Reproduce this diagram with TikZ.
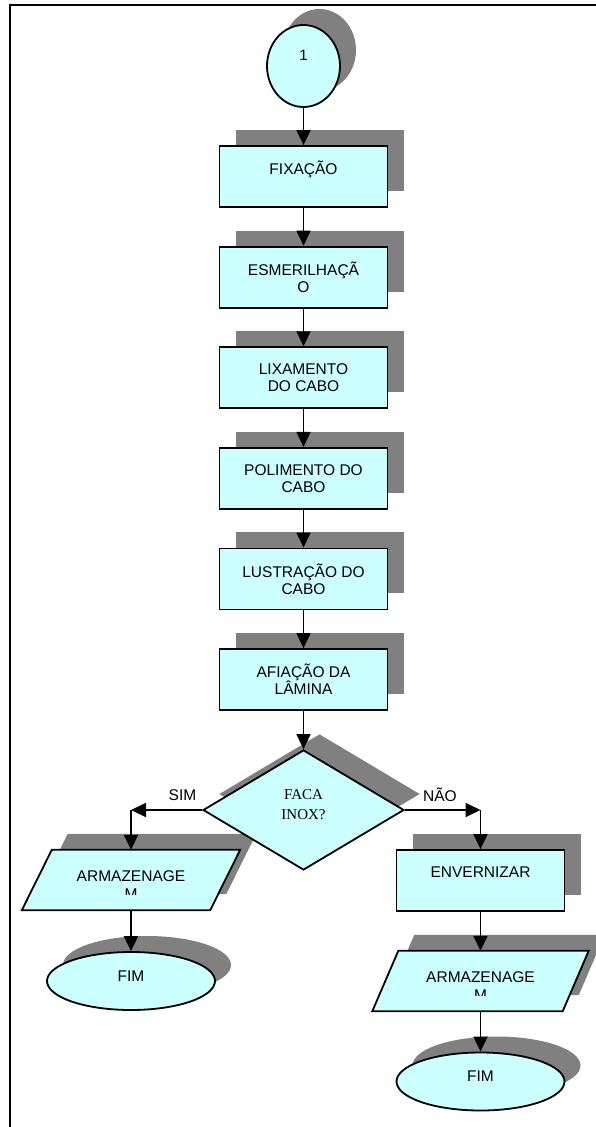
\documentclass[tikz,border=0pt]{standalone}
\usepackage{fontspec}
\setmainfont{Liberation Sans}
\newfontfamily\decisionfont{Liberation Serif}
\usetikzlibrary{shapes.geometric,arrows.meta,shadows}
\definecolor{stepfill}{HTML}{CCFFFF}
\definecolor{stepshade}{HTML}{808080}
\newcommand\flowfont{\fontsize{15.5pt}{17pt}\selectfont}

\begin{document}
\begin{tikzpicture}[x=1pt,y=-1pt,
  flowbase/.style={draw=black,line width=1.8pt,fill=stepfill,inner sep=0pt,
    general shadow={fill=stepshade,shadow xshift=16pt,shadow yshift=16pt}},
  procbox/.style={flowbase,rectangle,minimum width=168pt,minimum height=61pt,
    align=center,font=\flowfont},
  termbox/.style={flowbase,ellipse,minimum width=168pt,minimum height=58pt,
    text depth=10pt,font=\flowfont},
  iohold/.style={rectangle,draw=none,inner sep=0pt,minimum width=188pt,minimum height=60pt},
  decbox/.style={flowbase,diamond,minimum width=201pt,minimum height=120pt},
  plain/.style={inner sep=0pt,font=\flowfont},
  flow/.style={line width=1.8pt,-{Triangle[length=15pt,width=14pt]}},
]
\useasboundingbox (0,0) rectangle (596,1127);

% page frame
\draw[line width=2pt] (596,5) -- (10,5) -- (10,1127);

% main column
\node[flowbase,ellipse,minimum width=73pt,minimum height=82pt,text depth=22pt,
  font=\fontsize{15pt}{17pt}\selectfont] (start) at (303.5,66) {1};
\node[procbox] (fix) at (303.5,176.5) {FIXAÇÃO\\\mbox{}};
\node[procbox] (esm) at (303.5,277.1) {ESMERILHAÇÃ\\O};
\node[procbox] (lix) at (303.5,377.7) {LIXAMENTO\\DO CABO};
\node[procbox] (pol) at (303.5,478.3) {POLIMENTO DO\\CABO};
\node[procbox] (lus) at (303.5,578.9) {LUSTRAÇÃO DO\\CABO};
\node[procbox] (afi) at (303.5,679.5) {AFIAÇÃO DA\\LÂMINA};

% "yes" branch: storage parallelogram and terminator
\node[iohold] (armL) at (131,880) {};
\path[flowbase] ([xshift=-15pt]armL.south west) -- ([xshift=-15pt]armL.south east)
  -- ([xshift=15pt]armL.north east) -- ([xshift=15pt]armL.north west) -- cycle;
\node[plain] (armLtxt) at ([yshift=-26pt]armL.north) {ARMAZENAGE};
\begin{scope}
  \clip ([xshift=-90pt]armL.north) rectangle ([xshift=90pt,yshift=-44.3pt]armL.north);
  \node[plain] (armLm) at ([yshift=-44.5pt]armL.north) {M};
\end{scope}
\node[termbox] (endL) at (131,981) {FIM};

% "no" branch: varnish, storage, terminator
\node[procbox] (env) at (480.5,880.5) {ENVERNIZAR\\\mbox{}};
\node[iohold,minimum width=190pt] (armR) at (480.5,981) {};
\path[flowbase] ([xshift=-13pt]armR.south west) -- ([xshift=-13pt]armR.south east)
  -- ([xshift=13pt]armR.north east) -- ([xshift=13pt]armR.north west) -- cycle;
\node[plain] (armRtxt) at ([yshift=-26pt]armR.north) {ARMAZENAGE};
\begin{scope}
  \clip ([xshift=-90pt]armR.north) rectangle ([xshift=90pt,yshift=-44.3pt]armR.north);
  \node[plain] (armRm) at ([yshift=-44.5pt]armR.north) {M};
\end{scope}
\node[termbox] (endR) at (480.5,1081.5) {FIM};

% decision
\node[decbox] (dec) at (303.5,810) {};
\node[plain,align=center,font=\decisionfont\fontsize{15pt}{20pt}\selectfont]
  (dectxt) at ([yshift=5pt]dec.center) {FACA\\INOX?};

\node[plain] (sim) at (182.5,795) {SIM};
\node[plain] (nao) at (440,795) {NÃO};

% connectors
\draw[flow] (start.south) -- (fix.north);
\draw[flow] (fix.south) -- (esm.north);
\draw[flow] (esm.south) -- (lix.north);
\draw[flow] (lix.south) -- (pol.north);
\draw[flow] (pol.south) -- (lus.north);
\draw[flow] (lus.south) -- (afi.north);
\draw[flow] (afi.south) -- (dec.north);

\coordinate (yescorner) at (armL.north |- dec.west);
\coordinate (nocorner) at (env.north |- dec.east);
\draw[flow] (dec.west) -- (yescorner);
\draw[flow] (yescorner) -- (armL.north);
\draw[flow] (dec.east) -- (nocorner);
\draw[flow] (nocorner) -- (env.north);

\draw[flow] (armL.south) -- (endL.north);
\draw[flow] (env.south) -- (armR.north);
\draw[flow] (armR.south) -- (endR.north);
\end{tikzpicture}
\end{document}
